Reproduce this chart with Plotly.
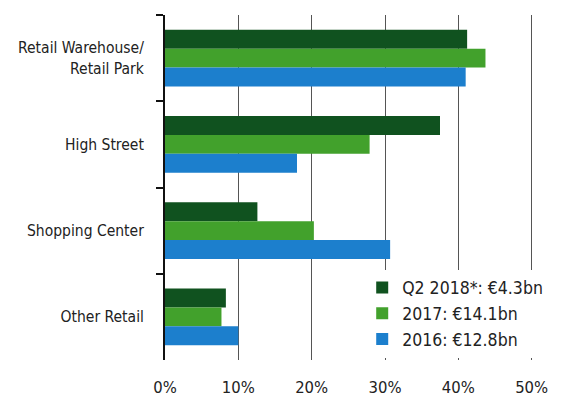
import plotly.graph_objects as go

categories = ["Retail Warehouse/<br>Retail Park", "High Street", "Shopping Center", "Other Retail"]
series_names = ["Q2 2018*: €4.3bn", "2017: €14.1bn", "2016: €12.8bn"]
q2_2018 = [41.2, 37.5, 12.6, 8.3]
y2017 = [43.7, 27.9, 20.3, 7.7]
y2016 = [41.0, 18.0, 30.7, 10.0]
colors = ["#10521f", "#42a12c", "#1c7fcd"]
x_ticks = [0, 10, 20, 30, 40, 50]
x_tick_labels = ["0%", "10%", "20%", "30%", "40%", "50%"]

FONT = "DejaVu Sans Condensed, Liberation Sans Narrow, sans-serif"

fig = go.Figure()
for name, vals, col in zip(series_names, [q2_2018, y2017, y2016], colors):
    fig.add_trace(go.Bar(y=categories, x=vals, orientation="h", name=name,
                         marker=dict(color=col, line=dict(width=0))))

fig.update_layout(
    width=567, height=392,
    margin=dict(l=157, r=14, t=7, b=40, autoexpand=False),
    paper_bgcolor="white", plot_bgcolor="white",
    barmode="group", bargap=0.34, bargroupgap=0,
    font=dict(family=FONT, size=15, color="#222"),
    showlegend=True,
    legend=dict(x=0.498, y=0.262, xanchor="left", yanchor="top",
                bgcolor="white", font=dict(family=FONT, size=17.5, color="#222"),
                traceorder="normal", itemwidth=30, tracegroupgap=0),
    xaxis=dict(range=[0, 54], tickvals=x_ticks, ticktext=x_tick_labels,
               showgrid=True, gridcolor="#555", gridwidth=1, zeroline=False,
               showline=False, ticks="", ticklabelstandoff=15, automargin=False,
               tickfont=dict(family=FONT, size=16.5, color="#222")),
    yaxis=dict(autorange="reversed", showline=True, linecolor="#111", linewidth=2,
               ticks="outside", tickson="boundaries", ticklen=7, tickwidth=2,
               tickcolor="#111", showgrid=False, ticklabelstandoff=16, automargin=False,
               tickfont=dict(family=FONT, size=15.5, color="#222")),
)

fig.write_html("out.html")
